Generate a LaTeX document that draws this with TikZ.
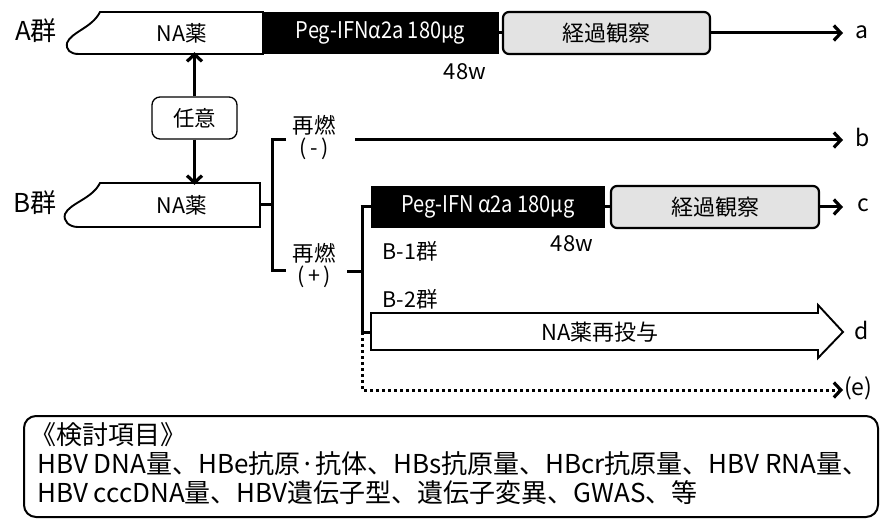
\documentclass[tikz,border=0pt]{standalone}
\usepackage{fontspec}
\setmainfont{Noto Sans CJK JP}
\newfontfamily\narrowfont[FakeStretch=0.87]{Noto Sans CJK JP}
\usetikzlibrary{arrows.meta}
\begin{document}
\begin{tikzpicture}[x=1pt,y=-1pt,
  font=\fontsize{21.5}{25}\selectfont,
  big/.style={font=\fontsize{26}{30}\selectfont},
  bar/.style={draw, line width=1.9pt, fill=white},
  plain/.style={inner sep=0pt},
  pegbox/.style={fill=black, text=white, inner sep=0pt, minimum height=42pt,
    font=\narrowfont\fontsize{23}{26}\selectfont},
  obsbox/.style={draw, line width=2.2pt, rounded corners=6pt, fill=gray!22, inner sep=0pt,
    minimum height=42pt, font=\fontsize{22}{26}\selectfont},
  conn/.style={line width=3pt},
  tipA/.tip={Straight Barb[length=7pt,width=15pt,line width=3.2pt]},
  arr/.style={line width=3pt, -tipA},
  darr/.style={line width=3pt, dash pattern=on 3pt off 3pt, -tipA},
  lab/.style={inner sep=0pt, font=\fontsize{23}{26}\selectfont},
]
\useasboundingbox (0,0) rectangle (883,521);

% ---------- A group ----------
\node[plain, big] (Alab) at (36,31) {A群};
\draw[bar] (263,12) -- (100,12) .. controls (92,28) and (71,32) .. (67,43)
  .. controls (66,50) and (70,54) .. (79,54) -- (263,54) -- cycle;
\node[plain, minimum height=42pt] (naA) at (182,33) {NA薬};
\node[pegbox, minimum width=236pt] (pegA) at (380.5,33) {Peg-IFNα2a 180μg};
\node[obsbox, minimum width=207pt] (obsA) at (606.5,33) {経過観察};
\draw[conn] (pegA.east) -- (obsA.west);
\coordinate (aEnd) at (843,33);
\draw[arr] (obsA.east) -- (aEnd);
\node[lab] (alab) at (862,32) {a};
\node[plain, font=\fontsize{22}{26}\selectfont] (wA) at (465,72) {48w};

% ---------- optional ----------
\node[draw, line width=1.3pt, rounded corners=8pt, minimum width=85pt, minimum height=42pt, inner sep=0pt] (nini) at (194.5,118) {任意};

% ---------- B group ----------
\node[plain, big] (Blab) at (35,203) {B群};
\draw[bar] (260,183) -- (100,183) .. controls (92,199) and (70,203) .. (65,214)
  .. controls (63,221) and (69,227) .. (78,227) -- (260,227) -- cycle;
\node[plain, minimum height=44pt] (naB) at (182,205) {NA薬};
\draw[arr] (nini.north) -- ([yshift=2pt]nini.north |- naA.south);
\draw[arr] (nini.south) -- ([yshift=-2pt]nini.south |- naB.north);

\coordinate (naBr) at (260,205);
\coordinate (br) at (272,205);
\coordinate (brT) at (272,140);
\coordinate (brB) at (272,271);
\coordinate (brTe) at (286,140);
\coordinate (brBe) at (286,271);
\draw[conn] (naBr) -- (br);
\draw[conn] (brTe) -- (brT) -- (brB) -- (brBe);

\node[plain, align=center] (rm) at (314,138) {再燃\\[-3pt](\,-\,)};
\coordinate (bS) at (355,140);
\coordinate (bEnd) at (843,140);
\draw[arr] (bS) -- (bEnd);
\node[lab] (blab) at (863,137) {b};

\node[plain, align=center] (rp) at (314,266) {再燃\\[-3pt](\,+\,)};
\coordinate (pS) at (347,272);
\coordinate (pJ) at (362,272);
\coordinate (pT) at (362,207);
\coordinate (pD) at (362,332);
\coordinate (pE) at (362,390);
\draw[conn] (pS) -- (pJ);

\node[pegbox, minimum width=234pt] (pegB) at (488,207) {Peg-IFN α2a 180μg};
\node[obsbox, minimum width=208pt] (obsB) at (715,207) {経過観察};
\draw[conn] (pegB.east) -- (obsB.west);
\draw[conn] ([xshift=-1.5pt]pT) -- (pegB.west);
\draw[conn] (pT) -- (pD);
\coordinate (cEnd) at (843,207);
\draw[arr] (obsB.east) -- (cEnd);
\node[lab] (clab) at (863,205) {c};
\node[plain] (b1) at (410,251) {B-1群};
\node[plain, font=\fontsize{22}{26}\selectfont] (wB) at (572,244) {48w};
\node[plain] (b2) at (410,299) {B-2群};

% big white arrow
\draw[line width=1.9pt, fill=white] (371,313) -- (818,313) -- (818,305) -- (843,332)
  -- (818,358) -- (818,350) -- (371,350) -- cycle;
\node[plain, font=\fontsize{22}{26}\selectfont] (re) at (600,332) {NA薬再投与};
\coordinate (reW) at (371,332);
\draw[conn] ([xshift=-1.5pt]pD) -- (reW);
\node[lab] (dlab) at (862,330) {d};

\coordinate (eEnd) at (843,390);
\draw[darr] (pD) -- (pE) -- (eEnd);
\node[lab, anchor=west] (elab) at (844,388) {(e)};

% ---------- bottom box ----------
\node[draw, line width=2pt, rounded corners=12pt, minimum width=854pt, minimum height=101pt, inner sep=0pt] (box) at (451,466.5) {};
\node[plain, big, anchor=west] (t1) at (30,435) {《検討項目》};
\node[plain, big, anchor=west] (t2) at (37,464) {HBV DNA量、HBe抗原·抗体、HBs抗原量、HBcr抗原量、HBV RNA量、};
\node[plain, big, anchor=west] (t3) at (37,493) {HBV cccDNA量、HBV遺伝子型、遺伝子変異、GWAS、等};
\end{tikzpicture}
\end{document}
